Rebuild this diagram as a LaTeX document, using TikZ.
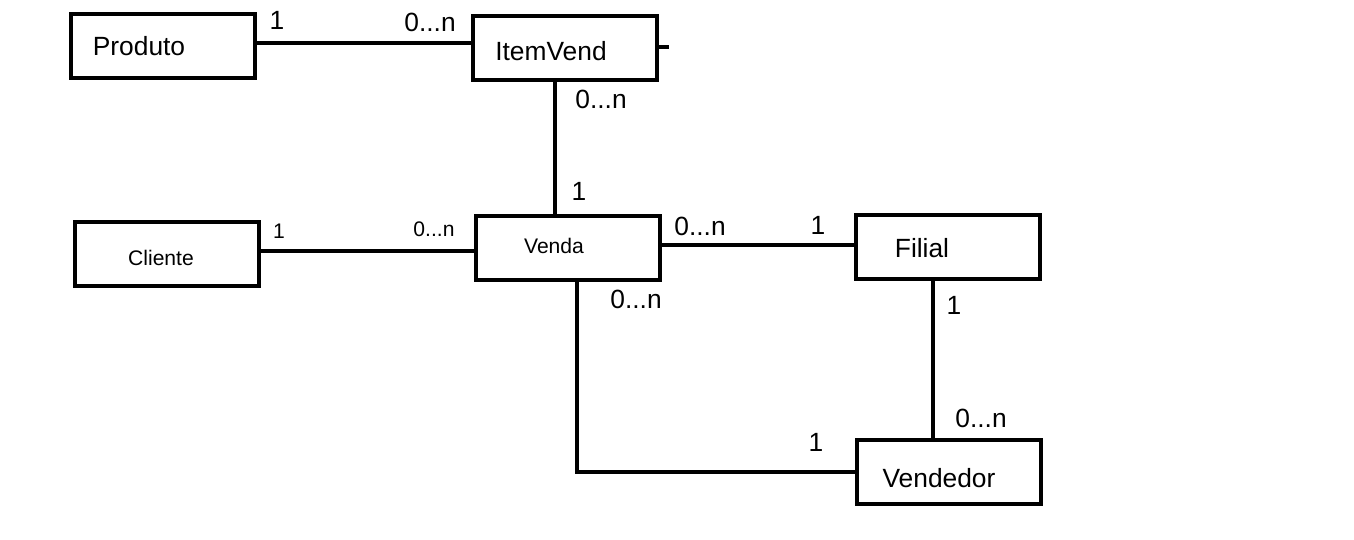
\documentclass[tikz,border=0pt]{standalone}
\usepackage{fontspec}
\setmainfont{Liberation Sans}
\usetikzlibrary{positioning}

\begin{document}
\begin{tikzpicture}[
		x=0.02cm, y=-0.02cm,
		entity/.style={draw, line width=0.08cm, minimum width=3.68cm, minimum height=1.3cm, inner sep=0pt},
		big/.style={font=\fontsize{15}{18}\selectfont},
		small/.style={font=\fontsize{12}{14}\selectfont},
		rel/.style={line width=0.08cm},
		card/.style={inner sep=0pt},
	]
		\useasboundingbox (0,0) rectangle (1354,540);
		\node[entity, label={[big, shift={(-24,0)}]center:Produto}] (produto) at (163,46) {};
		\node[entity, label={[big, shift={(-14,3)}]center:ItemVend}] (itemvend) at (565,48) {};
		\node[entity, label={[small, shift={(-6,4)}]center:Cliente}] (cliente) at (167,254) {};
		\node[entity, label={[small, shift={(-14,-2)}]center:Venda}] (venda) at (568,248) {};
		\node[entity, label={[big, shift={(-26,1)}]center:Filial}] (filial) at (948,247) {};
		\node[entity, label={[big, shift={(-10,6)}]center:Vendedor}] (vendedor) at (949,472) {};
		\coordinate (stub) at (669,47);
		
		\draw[rel] ([yshift=0.06cm]produto.east) -- ([yshift=0.06cm]produto.east -| itemvend.west);
		\draw[rel] (itemvend.east |- stub) -- (stub);
		\draw[rel] ([xshift=-0.2cm]itemvend.south) -- ([xshift=-0.2cm]itemvend.south |- venda.north);
		\draw[rel] ([yshift=0.06cm]cliente.east) -- ([yshift=0.06cm]cliente.east -| venda.west);
		\draw[rel] ([yshift=0.06cm]venda.east) -- ([yshift=0.06cm]venda.east -| filial.west);
		\draw[rel] ([xshift=-0.3cm]filial.south) -- ([xshift=-0.3cm]filial.south |- vendedor.north);
		\draw[rel] ([xshift=0.18cm]venda.south) |- (vendedor.west);
		
		\node[card, big] (pr1) at (277,20) {1};
		\node[card, big] (iv0n) at (430,22) {0...n};
		\node[card, big] (ivv0n) at (601,99) {0...n};
		\node[card, big] (vi1) at (579,191) {1};
		\node[card, small] (cl1) at (279,231) {1};
		\node[card, small] (cl0n) at (434,229) {0...n};
		\node[card, big] (vf0n) at (700,226) {0...n};
		\node[card, big] (fv1) at (818,225) {1};
		\node[card, big] (fi1) at (954,305) {1};
		\node[card, big] (vd0n) at (981,418) {0...n};
		\node[card, big] (vv0n) at (636,299) {0...n};
		\node[card, big] (vd1) at (816,442) {1};
	\end{tikzpicture}
\end{document}
